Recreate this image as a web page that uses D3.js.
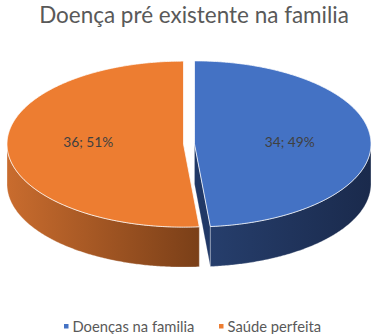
<!DOCTYPE html>
<html><head><meta charset="utf-8">
<script src="https://cdn.jsdelivr.net/npm/d3@7"></script>
<style>body{margin:0;background:#fff}svg{display:block}</style>
</head><body><svg id="c" width="375" height="334"></svg>
<script>
const title = "Doença pré existente na familia";
const categories = ["Doenças na familia", "Saúde perfeita"];
const values = [34, 36];
const topColors = ["#4472C4", "#ED7D31"];
const sideColorsA = ["#263e6c", "#c96c2e"];
const sideColorsB = ["#1a2a4c", "#7a3f18"];
const cutColors = ["#203866", "#8a4a1e"];

const FONT = "Lato, 'Open Sans', sans-serif";
const svg = d3.select("#c");
const cx = 189, cy = 144, rx = 176.5, ry = 83, depth = 40, explode = 5.5;

const total = d3.sum(values);
const pie = d3.pie().sort(null).value(d => d)(values);

const defs = svg.append("defs");

function pt(a, h, off) {
  return [cx + off[0] + rx * Math.sin(a), cy + off[1] - ry * Math.cos(a) + h];
}
function arcPts(a0, a1, h, off) {
  const n = Math.max(2, Math.ceil(Math.abs(a1 - a0) / 0.01));
  return d3.range(n + 1).map(i => pt(a0 + (a1 - a0) * i / n, h, off));
}
const line = d3.line();

const slices = pie.map((p, i) => {
  const m = (p.startAngle + p.endAngle) / 2;
  const off = [explode * Math.sin(m), -explode * Math.cos(m) * ry / rx];
  return {p, i, m, off};
});

const gCut = svg.append("g"), gSide = svg.append("g"), gTop = svg.append("g"), gLab = svg.append("g");

slices.forEach(s => {
  const {p, i, off} = s;
  [[p.startAngle, -1], [p.endAngle, 1]].forEach(([a, dir]) => {
    const ny = dir > 0 ? Math.sin(a) : -Math.sin(a);
    if (ny > 0.001) {
      const c0 = [cx + off[0], cy + off[1]];
      const e0 = pt(a, 0, off), e1 = pt(a, depth, off);
      const pts = [c0, e0, e1, [c0[0], c0[1] + depth]];
      gCut.append("path").attr("d", line(pts) + "Z")
        .attr("fill", cutColors[i]).attr("stroke", "rgba(255,255,255,0.35)").attr("stroke-width", 0.6);
    }
  });
  const s0 = Math.max(p.startAngle, Math.PI / 2), s1 = Math.min(p.endAngle, 3 * Math.PI / 2);
  if (s1 > s0) {
    const topA = arcPts(s0, s1, 0, off), botA = arcPts(s1, s0, depth, off);
    const xs = topA.map(d => d[0]);
    const gid = "sg" + i;
    const lg = defs.append("linearGradient").attr("id", gid).attr("gradientUnits", "userSpaceOnUse")
      .attr("x1", d3.min(xs)).attr("x2", d3.max(xs)).attr("y1", 0).attr("y2", 0);
    lg.append("stop").attr("offset", 0).attr("stop-color", sideColorsA[i]);
    lg.append("stop").attr("offset", 1).attr("stop-color", sideColorsB[i]);
    gSide.append("path").attr("d", line(topA.concat(botA)) + "Z")
      .attr("fill", `url(#${gid})`).attr("stroke", "rgba(255,255,255,0.45)").attr("stroke-width", 0.7);
  }
  const c0 = [cx + off[0], cy + off[1]];
  gTop.append("path").attr("d", line([c0].concat(arcPts(p.startAngle, p.endAngle, 0, off))) + "Z")
    .attr("fill", topColors[i]).attr("stroke", "rgba(255,255,255,0.75)").attr("stroke-width", 1);
  const k = 0.54;
  const lx = cx + off[0] + rx * Math.sin(s.m) * k;
  gLab.append("text").attr("class", "lab").attr("x", lx).attr("y", cy - 3)
    .attr("text-anchor", "middle").attr("dominant-baseline", "central")
    .attr("font-family", FONT).attr("font-size", 15).attr("fill", "#404040")
    .text(`${p.data}; ${Math.round(p.data / total * 100)}%`);
});

function fit(sel, target) {
  const w = sel.node().getComputedTextLength();
  const fs = +sel.attr("font-size");
  sel.attr("font-size", fs * target / w);
}

gLab.selectAll("text.lab").each(function () { fit(d3.select(this), 50); });

const t = svg.append("text").attr("x", 194).attr("y", 23).attr("text-anchor", "middle")
  .attr("font-family", FONT).attr("font-size", 22).attr("fill", "#595959").text(title);
fit(t, 310);

const legX = [64, 219];
const lt = categories.map((c, i) => {
  svg.append("rect").attr("x", legX[i]).attr("y", 324).attr("width", 4.5).attr("height", 4.5).attr("fill", topColors[i]);
  return svg.append("text").attr("x", legX[i] + 8.5).attr("y", 331.5)
    .attr("font-family", FONT).attr("font-size", 15).attr("fill", "#595959").text(c);
});
const w0 = lt[0].node().getComputedTextLength();
const fsL = 15 * 122 / w0;
lt.forEach(s => s.attr("font-size", fsL));
</script></body></html>
